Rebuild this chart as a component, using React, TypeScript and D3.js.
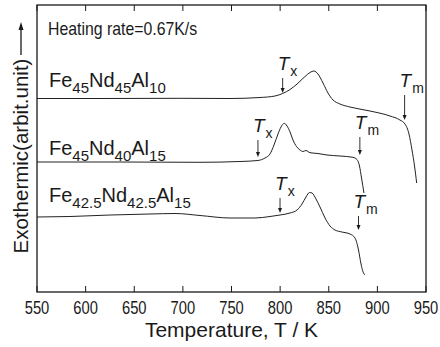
import * as d3 from "d3";

const X_TICKS = [550, 600, 650, 700, 750, 800, 850, 900, 950];

// [temperature K, signal in arbit. units]
const FE45ND45AL10: [number, number][] = [
  [550, 193.5], [614.8, 193.5], [697, 193.7], [748.5, 193.5], [779.3, 194.5], [794.7, 196],
  [802.6, 198.5], [810.2, 202.5], [817.4, 208], [825.6, 215.5], [830.7, 219.5], [834.8, 221],
  [838.9, 218], [844.1, 209], [849.2, 199], [854.4, 192], [861.5, 188], [871.8, 185],
  [892.4, 181], [913, 176], [923.2, 172], [928.4, 168], [932.5, 158], [935.6, 142],
  [938.2, 126], [940.4, 109],
];

const FE45ND40AL15: [number, number][] = [
  [550, 130], [635.3, 130], [717.6, 129.7], [758.7, 130.5], [777.2, 131.5], [784.4, 134],
  [789.6, 138], [793.7, 147], [797.8, 158], [800.9, 165], [804.3, 168.7], [807.1, 166],
  [810.2, 160], [813.2, 152], [817, 145.3], [820.4, 142], [823.5, 140.5], [826.6, 141.5],
  [830.7, 139.3], [838.9, 138.5], [848.2, 137], [861.6, 136], [874.9, 134.7], [879, 132.5],
  [881.6, 126], [883.7, 114], [886.2, 99],
];

const FE425ND425AL15: [number, number][] = [
  [550, 75], [583.9, 75.5], [625.1, 77], [666.2, 78], [691.9, 78.5], [717.6, 76.5],
  [748.5, 74], [774.2, 74], [789.6, 75.5], [799.9, 77], [810.2, 79], [817.4, 82],
  [822.5, 88], [826.6, 95], [830.2, 99.5], [832.8, 99], [836.9, 93], [841, 85],
  [846.2, 74], [851.3, 66], [856.4, 62], [863.6, 60], [871.8, 58], [877, 54],
  [880.6, 42], [883.2, 28], [885.3, 20], [887.3, 17],
];

const CURVES = [FE45ND45AL10, FE45ND40AL15, FE425ND425AL15];

// sample names as [element, subscript] pairs, anchored at [T, signal]
const SAMPLE_NAMES: [string, string][][] = [
  [["Fe", "45"], ["Nd", "45"], ["Al", "10"]],
  [["Fe", "45"], ["Nd", "40"], ["Al", "15"]],
  [["Fe", "42.5"], ["Nd", "42.5"], ["Al", "15"]],
];
const SAMPLE_ANCHORS: [number, number][] = [[562.3, 205], [562.3, 137], [562.3, 90.5]];

// characteristic temperatures: subscript, T, arrow from, arrow to
const MARKERS: { sub: string; T: number; from: number; to: number }[] = [
  { sub: "x", T: 802.6, from: 214, to: 199 },
  { sub: "m", T: 928, from: 197, to: 172 },
  { sub: "x", T: 777.2, from: 152, to: 135 },
  { sub: "m", T: 882, from: 155, to: 137 },
  { sub: "x", T: 799.9, from: 94, to: 79 },
  { sub: "m", T: 880.6, from: 76, to: 62 },
];

const FONT = "'Liberation Sans', Arial, Helvetica, sans-serif";
const INK = "#1a1a1a";

export default function App() {
  const W = 440, H = 347;
  const mg = { l: 37, r: 14, t: 5, b: 55 };
  const x = d3.scaleLinear().domain([550, 950]).range([mg.l, W - mg.r]);
  const y = d3.scaleLinear().domain([0, 287]).range([H - mg.b, mg.t]);
  const line = d3.line<[number, number]>().x(d => x(d[0])).y(d => y(d[1])).curve(d3.curveMonotoneX);
  const bottom = y(0), top = y(287);

  return (
    <svg width={W} height={H} style={{ position: "fixed", left: 0, top: 0, background: "#fff" }} fontFamily={FONT}>
      {/* ticks top & bottom, inward */}
      {X_TICKS.map(t => (
        <g key={t}>
          <line x1={x(t)} x2={x(t)} y1={bottom} y2={bottom - 6} stroke={INK} strokeWidth={1} />
          <line x1={x(t)} x2={x(t)} y1={top} y2={top + 6} stroke={INK} strokeWidth={1} />
          <text transform={`translate(${x(t)},${bottom + 21.5}) scale(0.82,1)`} textAnchor="middle" fontSize={18} fill={INK}>{t}</text>
        </g>
      ))}
      <rect x={mg.l} y={top} width={x(950) - mg.l} height={bottom - top} fill="none" stroke={INK} strokeWidth={1.3} />

      {CURVES.map((c, i) => (
        <path key={i} d={line(c) ?? ""} fill="none" stroke="#222" strokeWidth={1} />
      ))}

      {SAMPLE_NAMES.map((parts, i) => (
        <text key={i} x={x(SAMPLE_ANCHORS[i][0])} y={y(SAMPLE_ANCHORS[i][1])} fontSize={20} fill={INK}>
          {parts.map(([el, n], j) => [
            <tspan key={`e${j}`} dy={j === 0 ? 0 : -6}>{el}</tspan>,
            <tspan key={`n${j}`} fontSize={15} dy={6}>{n}</tspan>,
          ])}
        </text>
      ))}

      {MARKERS.map((m, i) => {
        const mx = x(m.T), y0 = y(m.from), y1 = y(m.to);
        return (
          <g key={i}>
            <line x1={mx} x2={mx} y1={y0} y2={y1 - 4} stroke={INK} strokeWidth={0.9} />
            <path d={`M${mx - 2},${y1 - 5} L${mx + 2},${y1 - 5} L${mx},${y1} Z`} fill={INK} />
            <text x={mx - 5} y={y0 - 8} fontSize={19} fill={INK}>
              <tspan fontStyle="italic">T</tspan>
              <tspan fontSize={14} dy={6} dx={1}>{m.sub}</tspan>
            </text>
          </g>
        );
      })}

      <text transform={`translate(${x(561.3)},${y(257)}) scale(0.88,1)`} fontSize={18} fill={INK}>Heating rate=0.67K/s</text>

      <text x={(mg.l + x(950)) / 2} y={337} textAnchor="middle" fontSize={21} fill={INK}>Temperature, T / K</text>

      <g transform="translate(28,156) rotate(-90)">
        <text textAnchor="middle" fontSize={20.5} fill={INK}>Exothermic(arbit.unit)</text>
      </g>
      <line x1={21} x2={21} y1={55} y2={29} stroke={INK} strokeWidth={1.3} />
      <path d="M18.5,30 L23.5,30 L21,22 Z" fill={INK} />
    </svg>
  );
}
